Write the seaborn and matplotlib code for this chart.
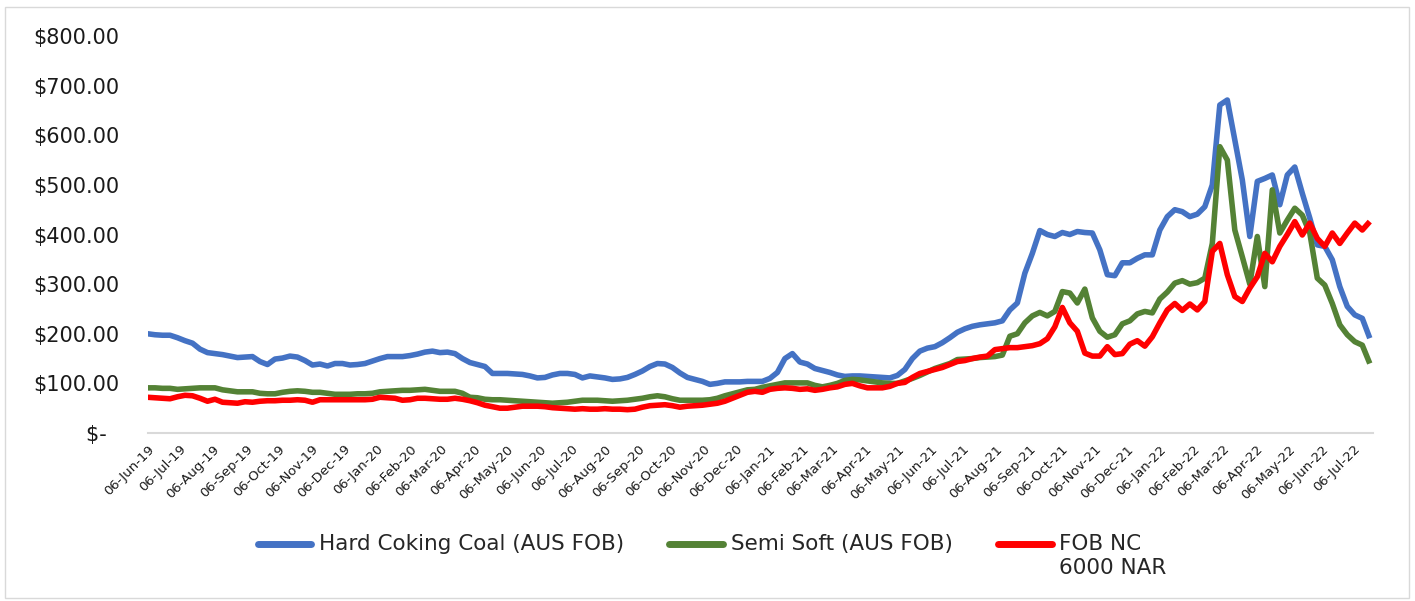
import numpy as np
import pandas as pd
import matplotlib
matplotlib.use("Agg")
import matplotlib.pyplot as plt
from matplotlib.patches import Rectangle
from matplotlib.lines import Line2D
from matplotlib.legend_handler import HandlerLine2D
import seaborn as sns

# ---------------- data ----------------
start_date = "2019-06-06"
n_weeks = 164

hard_coking = [
    200, 198, 197, 197, 192, 186, 181, 169, 162, 160,
    158, 155, 152, 153, 154, 144, 138, 149, 151, 155,
    153, 146, 137, 139, 135, 140, 140, 137, 138, 140,
    145, 150, 154, 154, 154, 156, 159, 163, 165, 162,
    163, 160, 150, 142, 138, 134, 120, 120, 120, 119,
    118, 115, 111, 112, 117, 120, 120, 118, 111, 115,
    113, 111, 108, 109, 112, 118, 125, 134, 140, 139,
    132, 121, 112, 108, 104, 98, 100, 103, 103, 103,
    104, 104, 104, 110, 122, 150, 160, 143, 139, 130,
    126, 122, 117, 114, 115, 115, 114, 113, 112, 111,
    116, 128, 150, 165, 171, 174, 182, 192, 203, 210,
    215, 218, 220, 222, 226, 248, 262, 322, 362, 408,
    400, 396, 404, 400, 406, 404, 403, 369, 319, 317,
    343, 343, 352, 359, 359, 409, 436, 450, 446, 436,
    441, 456, 500, 661, 671, 591, 510, 396, 507, 513,
    520, 460, 520, 536, 483, 433, 379, 376, 349, 295,
    255, 238, 231, 191,
]

semi_soft = [
    91, 91, 90, 90, 88, 89, 90, 91, 91, 91,
    87, 85, 83, 83, 83, 80, 79, 79, 82, 84,
    85, 84, 82, 82, 80, 78, 78, 78, 79, 79,
    80, 83, 84, 85, 86, 86, 87, 88, 86, 84,
    84, 84, 80, 72, 71, 68, 67, 67, 66, 65,
    64, 63, 62, 61, 60, 61, 62, 64, 66, 66,
    66, 65, 64, 65, 66, 68, 70, 73, 75, 73,
    69, 66, 66, 66, 66, 67, 70, 75, 79, 83,
    87, 88, 92, 95, 98, 101, 101, 101, 101, 96,
    93, 96, 100, 106, 108, 107, 105, 103, 101, 100,
    100, 105, 110, 116, 123, 130, 135, 140, 148, 149,
    150, 152, 153, 154, 157, 195, 200, 222, 236, 243,
    236, 245, 285, 282, 262, 290, 232, 205, 193, 198,
    220, 226, 240, 245, 242, 270, 284, 302, 307, 300,
    303, 312, 382, 577, 550, 409, 355, 300, 396, 295,
    490, 403, 429, 453, 439, 403, 312, 298, 261, 218,
    198, 184, 177, 140,
]

fob_nc = [
    72, 71, 70, 69, 73, 76, 75, 70, 64, 68,
    62, 61, 60, 63, 62, 64, 65, 65, 66, 66,
    67, 66, 62, 67, 67, 67, 67, 67, 67, 67,
    68, 72, 71, 70, 66, 67, 70, 70, 69, 68,
    68, 70, 68, 65, 61, 56, 53, 50, 50, 52,
    54, 54, 54, 53, 51, 50, 49, 48, 49, 48,
    48, 49, 48, 48, 47, 48, 52, 55, 56, 57,
    55, 52, 54, 55, 56, 58, 60, 64, 70, 76,
    82, 84, 82, 88, 90, 91, 90, 88, 89, 86,
    88, 91, 93, 98, 100, 95, 91, 91, 91, 94,
    100, 102, 112, 120, 124, 128, 132, 138, 144, 146,
    150, 153, 155, 168, 170, 172, 172, 174, 176, 180,
    190, 214, 253, 222, 205, 161, 155, 155, 174, 158,
    160, 179, 186, 175, 194, 222, 248, 261, 247, 260,
    248, 265, 366, 382, 319, 275, 265, 292, 315, 362,
    345, 376, 400, 426, 399, 423, 392, 376, 403, 382,
    403, 423, 409, 426,
]

series_names = ["Hard Coking Coal (AUS FOB)", "Semi Soft (AUS FOB)", "FOB NC\n6000 NAR"]
series_colors = ["#4472C4", "#548235", "#FF0000"]

y_ticks = [0, 100, 200, 300, 400, 500, 600, 700, 800]
y_tick_labels = ["$-  ", "$100.00", "$200.00", "$300.00", "$400.00",
                 "$500.00", "$600.00", "$700.00", "$800.00"]

first_tick = "2019-06-06"
n_month_ticks = 38

# ---------------- build frame ----------------
dates = pd.date_range(start_date, periods=n_weeks, freq="7D")
frames = []
for name, vals in zip(series_names, [hard_coking, semi_soft, fob_nc]):
    frames.append(pd.DataFrame({"date": dates, "price": vals, "series": name}))
df = pd.concat(frames, ignore_index=True)

month_ticks = pd.date_range(first_tick, periods=n_month_ticks, freq=pd.DateOffset(months=1))
month_labels = [d.strftime("%d-%b-%y") for d in month_ticks]

# ---------------- plot ----------------
sns.set_style("white")
plt.rcParams["font.family"] = ["DejaVu Sans"]

fig = plt.figure(figsize=(14.15, 6.01), dpi=100)
ax = fig.add_axes([147.5 / 1415, 168 / 601, (1373 - 147.5) / 1415, (565 - 168) / 601])

palette = dict(zip(series_names, series_colors))
sns.lineplot(data=df, x="date", y="price", hue="series", palette=palette,
             hue_order=series_names, linewidth=4, legend=False, ax=ax,
             solid_joinstyle="round", solid_capstyle="butt")

ax.set_ylim(0, 800)
ax.set_xlim(dates[0], dates[-1] + pd.Timedelta(days=3))
ax.set_yticks(y_ticks)
ax.set_yticklabels(y_tick_labels, fontsize=15, color="#1a1a1a")
ax.set_xticks(month_ticks)
ax.set_xticklabels(month_labels, rotation=45, ha="right", rotation_mode="anchor",
                   fontsize=9.5, color="#1a1a1a")
ax.tick_params(axis="y", length=0, pad=20)
ax.tick_params(axis="x", length=4, width=1.2, color="#d9d9d9", direction="out", pad=3)
ax.set_xlabel("")
ax.set_ylabel("")
ax.grid(False)
for s in ["top", "right", "left"]:
    ax.spines[s].set_visible(False)
ax.spines["bottom"].set_color("#d9d9d9")
ax.spines["bottom"].set_linewidth(1.5)


class RaisedLineHandler(HandlerLine2D):
    """Draws the legend key aligned with the first line of a two-line label."""

    def __init__(self, dy, **kw):
        super().__init__(**kw)
        self.dy = dy

    def create_artists(self, legend, orig_handle, xdescent, ydescent, width, height,
                       fontsize, trans):
        artists = super().create_artists(legend, orig_handle, xdescent, ydescent,
                                         width, height, fontsize, trans)
        for a in artists:
            a.set_ydata(np.asarray(a.get_ydata(), dtype=float) + self.dy)
        return artists


leg_fs = 15.5
legend_labels = [n if "\n" in n else n + "\n " for n in series_names]
handles = [Line2D([0], [0], color=c, lw=5) for c in series_colors]
fig.legend(handles, legend_labels, loc="center", bbox_to_anchor=(712 / 1415, 1 - 556 / 601),
           ncol=3, frameon=False, fontsize=leg_fs, handlelength=2.5, handletextpad=0.35,
           columnspacing=2.1,
           handler_map={h: RaisedLineHandler(dy=leg_fs * 0.6) for h in handles})

fig.add_artist(Rectangle((5 / 1415, 3 / 601), (1409 - 5) / 1415, (594 - 3) / 601,
                         transform=fig.transFigure, fill=False, edgecolor="#d9d9d9", lw=1))

fig.savefig("out.png", dpi=100)
